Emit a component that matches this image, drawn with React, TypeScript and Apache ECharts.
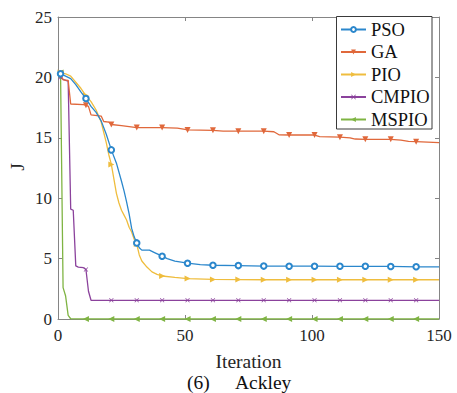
import React, { useEffect, useRef } from "react";
import * as echarts from "echarts";

const seriesNames = ["PSO", "GA", "PIO", "CMPIO", "MSPIO"];
const seriesColors = ["#2b87cc", "#e0683b", "#efbd3e", "#8b429c", "#7fb443"];

const psoData: [number, number][] = [
  [1, 20.3], [3, 20.1], [5, 19.9], [7, 19.4], [9, 18.8], [11, 18.25], [13, 17.6], [15, 17.1],
  [17, 16.4], [19, 15.3], [21, 14.0], [23, 12.9], [25, 11.4], [26, 10.6], [27, 9.7], [28, 8.7],
  [29, 7.5], [30, 6.8], [31, 6.3], [32, 5.9], [33, 5.7], [36, 5.7], [38, 5.5], [41, 5.2],
  [43, 5.0], [46, 4.8], [51, 4.62], [56, 4.5], [61, 4.45], [71, 4.42], [81, 4.38], [91, 4.37],
  [101, 4.37], [111, 4.36], [121, 4.36], [131, 4.35], [141, 4.32], [150, 4.32],
];

const gaData: [number, number][] = [
  [1, 20.3], [2, 19.8], [4, 19.75], [5, 17.8], [10, 17.75], [11, 17.7], [12, 17.6], [13, 16.9],
  [17, 16.8], [18, 16.35], [20, 16.3], [21, 16.1], [25, 16.0], [31, 15.85], [41, 15.85],
  [47, 15.8], [50, 15.7], [51, 15.65], [61, 15.62], [65, 15.55], [71, 15.55], [81, 15.55],
  [85, 15.5], [87, 15.25], [91, 15.23], [101, 15.23], [103, 15.1], [111, 15.05], [115, 15.0],
  [117, 14.9], [121, 14.87], [131, 14.87], [135, 14.8], [138, 14.7], [141, 14.68], [150, 14.6],
];

const pioData: [number, number][] = [
  [1, 20.4], [3, 20.3], [5, 20.1], [7, 19.6], [9, 19.1], [11, 18.5], [13, 18.0], [15, 17.3],
  [17, 16.3], [19, 14.6], [20, 13.6], [21, 12.8], [22, 11.6], [23, 10.4], [24, 9.6], [25, 9.0],
  [26, 8.6], [27, 8.2], [28, 7.6], [29, 7.2], [30, 6.6], [31, 6.2], [32, 5.3], [33, 4.8],
  [35, 4.3], [37, 3.9], [39, 3.7], [41, 3.56], [46, 3.45], [51, 3.35], [61, 3.28], [71, 3.26],
  [81, 3.25], [91, 3.25], [101, 3.25], [111, 3.25], [121, 3.25], [131, 3.25], [141, 3.25],
  [150, 3.25],
];

const cmpioData: [number, number][] = [
  [1, 20.0], [2, 19.85], [3, 19.75], [4, 19.7], [5, 9.1], [6, 9.0], [7, 4.4], [8, 4.3],
  [10, 4.25], [11, 4.1], [12, 2.3], [13, 1.55], [21, 1.55], [31, 1.55], [41, 1.55], [51, 1.55],
  [61, 1.55], [71, 1.55], [81, 1.55], [91, 1.55], [101, 1.55], [111, 1.55], [121, 1.55],
  [131, 1.55], [141, 1.55], [150, 1.55],
];

const mspioData: [number, number][] = [
  [1, 20.4], [2, 2.6], [3, 1.9], [4, 0.3], [5, 0.02], [11, 0], [21, 0], [31, 0], [41, 0],
  [51, 0], [61, 0], [71, 0], [81, 0], [91, 0], [101, 0], [111, 0], [121, 0], [131, 0],
  [141, 0], [150, 0],
];

const markerIterations = [1, 11, 21, 31, 41, 51, 61, 71, 81, 91, 101, 111, 121, 131, 141];
const xTickValues = [0, 50, 100, 150];
const yTickValues = [0, 5, 10, 15, 20, 25];

const FONT = "Liberation Serif";
const AXIS_COLOR = "#858585";
const TEXT_COLOR = "#262626";

const crossPath =
  "path://M0,1L1,0L5,4L9,0L10,1L6,5L10,9L9,10L5,6L1,10L0,9L4,5Z";

const symbolDefs = [
  { symbol: "emptyCircle", size: 5.5, rotate: 0 },
  { symbol: "triangle", size: 6, rotate: 180 },
  { symbol: "triangle", size: 6, rotate: -90 },
  { symbol: crossPath, size: 4.5, rotate: 0 },
  { symbol: "triangle", size: 6, rotate: 90 },
];

const allData = [psoData, gaData, pioData, cmpioData, mspioData];

export default function App() {
  const ref = useRef<HTMLDivElement>(null);

  useEffect(() => {
    if (!ref.current) return;
    const chart = echarts.init(ref.current, null, { renderer: "svg" });

    const axisCommon = {
      type: "value" as const,
      axisLine: { show: true, onZero: false, lineStyle: { color: AXIS_COLOR, width: 1 } },
      axisTick: { show: true, inside: true, length: 4, lineStyle: { color: AXIS_COLOR } },
      splitLine: { show: false },
    };

    const series = seriesNames.map((name, i) => ({
      name,
      type: "line" as const,
      data: allData[i].map(([x, y]) =>
        markerIterations.includes(x)
          ? { value: [x, y] }
          : { value: [x, y], symbol: "none" }
      ),
      symbol: symbolDefs[i].symbol,
      symbolSize: symbolDefs[i].size,
      symbolRotate: symbolDefs[i].rotate,
      showSymbol: true,
      showAllSymbol: true,
      lineStyle: { color: seriesColors[i], width: 1.3 },
      itemStyle: { color: seriesColors[i], borderWidth: i === 0 ? 1.2 : 0 },
      emphasis: { disabled: true },
      xAxisIndex: 0,
      yAxisIndex: 0,
      z: 10 - i,
    }));

    chart.setOption({
      animation: false,
      backgroundColor: "#ffffff",
      textStyle: { fontFamily: FONT },
      grid: { left: 58, right: 18, top: 17, bottom: 74 },
      xAxis: [
        {
          ...axisCommon,
          position: "bottom",
          min: xTickValues[0],
          max: xTickValues[xTickValues.length - 1],
          interval: xTickValues[1] - xTickValues[0],
          axisLabel: { fontSize: 17, fontFamily: FONT, color: TEXT_COLOR, margin: 8 },
        },
        {
          ...axisCommon,
          position: "top",
          min: xTickValues[0],
          max: xTickValues[xTickValues.length - 1],
          interval: xTickValues[1] - xTickValues[0],
          axisLabel: { show: false },
        },
      ],
      yAxis: [
        {
          ...axisCommon,
          position: "left",
          min: yTickValues[0],
          max: yTickValues[yTickValues.length - 1],
          interval: yTickValues[1] - yTickValues[0],
          axisLabel: { fontSize: 17, fontFamily: FONT, color: TEXT_COLOR, margin: 6 },
        },
        {
          ...axisCommon,
          position: "right",
          min: yTickValues[0],
          max: yTickValues[yTickValues.length - 1],
          interval: yTickValues[1] - yTickValues[0],
          axisLabel: { show: false },
        },
      ],
      legend: {
        data: seriesNames,
        orient: "vertical",
        left: 336,
        top: 16,
        padding: [4, 6, 0, 4],
        itemWidth: 25,
        itemHeight: 6,
        itemGap: 3.5,
        borderWidth: 0,
        z: 20,
        textStyle: { fontSize: 18.5, fontFamily: FONT, color: "#111" },
      },
      graphic: [
        {
          type: "rect",
          z: 15,
          shape: { x: 336.5, y: 16.5, width: 95.5, height: 112.5 },
          style: { fill: "#ffffff", stroke: "#3a3a3a", lineWidth: 1 },
        },
        {
          type: "text",
          x: 17,
          y: 167,
          rotation: Math.PI / 2,
          style: {
            text: "J",
            fontSize: 19.5,
            fontFamily: FONT,
            fill: TEXT_COLOR,
            align: "center",
            verticalAlign: "middle",
          },
        },
        {
          type: "text",
          x: 248.5,
          y: 361,
          style: {
            text: "Iteration",
            fontSize: 19.5,
            fontFamily: FONT,
            fill: TEXT_COLOR,
            align: "center",
            verticalAlign: "middle",
          },
        },
        {
          type: "text",
          x: 187,
          y: 382,
          style: {
            text: "(6)",
            fontSize: 19.5,
            fontFamily: FONT,
            fill: "#111",
            align: "left",
            verticalAlign: "middle",
          },
        },
        {
          type: "text",
          x: 235,
          y: 382,
          style: {
            text: "Ackley",
            fontSize: 19.5,
            fontFamily: FONT,
            fill: "#111",
            align: "left",
            verticalAlign: "middle",
          },
        },
      ],
      series,
    });

    return () => chart.dispose();
  }, []);

  return (
    <div
      ref={ref}
      style={{ position: "fixed", left: 0, top: 0, width: 457, height: 393, background: "#fff" }}
    />
  );
}
